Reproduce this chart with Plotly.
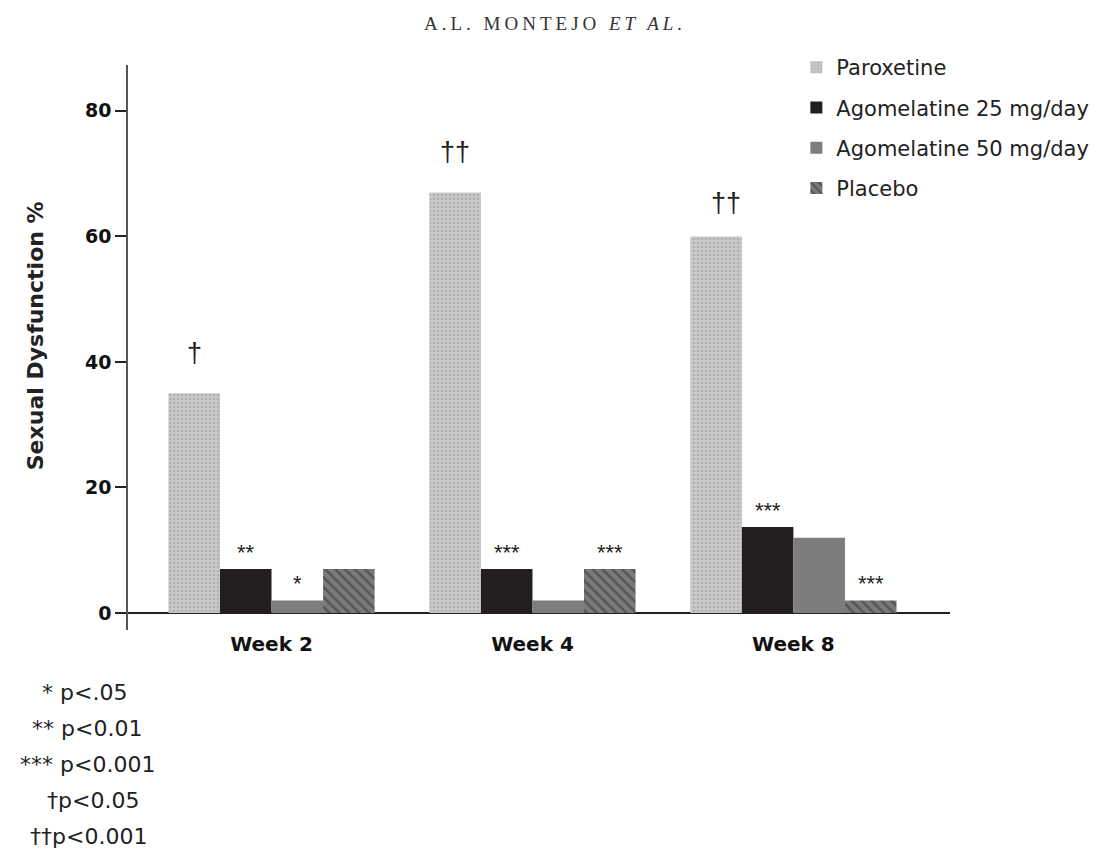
import plotly.graph_objects as go

categories = ["Week 2", "Week 4", "Week 8"]
series_names = ["Paroxetine", "Agomelatine 25 mg/day", "Agomelatine 50 mg/day", "Placebo"]
paroxetine = [35, 67, 60]
agomelatine25 = [7, 7, 13.7]
agomelatine50 = [2, 2, 12]
placebo = [7, 7, 2]
yticks = [0, 20, 40, 60, 80]
# significance marks: (category index, series index, label)
marks = [
    (0, 0, "†"), (0, 1, "**"), (0, 2, "*"),
    (1, 0, "††"), (1, 1, "***"), (1, 3, "***"),
    (2, 0, "††"), (2, 1, "***"), (2, 3, "***"),
]
footnotes = ["* p<.05", "** p<0.01", "*** p<0.001", "†p<0.05", "††p<0.001"]

values = [paroxetine, agomelatine25, agomelatine50, placebo]

# page coordinates (browser adds an 8px body margin at top/left)
OFF = 8
W, H = 1106 - OFF, 861 - 2 * OFF
P_LEFT, P_RIGHT, P_TOP, P_BOTTOM = 128, 952, 65, 630
ML, MT = P_LEFT - OFF, P_TOP - OFF
MR, MB = W - (P_RIGHT - OFF), H - (P_BOTTOM - OFF)
PW, PH = P_RIGHT - P_LEFT, P_BOTTOM - P_TOP

def px_x(x):
    return (x - P_LEFT) / PW

def px_y(y):
    return (P_BOTTOM - y) / PH

SANS = "DejaVu Sans, Verdana, sans-serif"
LIB = "Liberation Sans, Arial, sans-serif"

styles = [
    dict(color="#c6c6c6", pattern=dict(shape=".", fgcolor="#9a9a9a", bgcolor="#c9c9c9",
                                      size=4, solidity=0.35, fillmode="overlay")),
    dict(color="#231f20"),
    dict(color="#7d7d7d"),
    dict(color="#6e6e6e", pattern=dict(shape="\\", fgcolor="#2e2e2e", bgcolor="#7a7a7a",
                                      size=7, solidity=0.35, fillmode="overlay")),
]

xs = list(range(len(categories)))
fig = go.Figure()
for i, (name, vals) in enumerate(zip(series_names, values)):
    fig.add_trace(go.Bar(
        x=xs, y=vals, name=name, legendgroup=name,
        marker=dict(line=dict(width=0), **styles[i]),
    ))

bargap = 0.21
nser = len(series_names)
bw = (1 - bargap) / nser
for ci, si, lab in marks:
    xc = ci + (si - (nser - 1) / 2) * bw
    v = values[si][ci]
    is_dagger = "†" in lab
    fig.add_annotation(
        x=xc, y=v, xref="x", yref="y", text=lab, showarrow=False,
        yanchor="middle", yshift=((33 if ci == 2 else 40) if is_dagger else 17),
        xshift=(10 if (is_dagger and ci == 2) else 0),
        font=dict(family=LIB, size=(27 if is_dagger else 22), color="#222"),
    )

foot_left = [40, 30, 18, 45, 28]
for k, t in enumerate(footnotes):
    fig.add_annotation(
        x=px_x(foot_left[k]), y=px_y(692 + 36 * k), xref="paper", yref="paper",
        text=t, showarrow=False, xanchor="left", yanchor="middle",
        font=dict(family=SANS, size=22, color="#222"),
    )

fig.add_annotation(
    x=px_x(556), y=px_y(24), xref="paper", yref="paper",
    text="<span style='letter-spacing:4px'>A.L. MONTEJO <i>ET AL.</i></span>",
    showarrow=False, xanchor="center", yanchor="middle",
    font=dict(family="Liberation Serif, Times New Roman, serif", size=19, color="#333"),
)

fig.add_annotation(
    x=px_x(35), y=px_y(336), xref="paper", yref="paper",
    text="<b>Sexual Dysfunction %</b>", textangle=-90, showarrow=False,
    xanchor="center", yanchor="middle",
    font=dict(family=SANS, size=22, color="#222"),
)

fig.update_layout(
    width=W, height=H,
    margin=dict(l=ML, r=MR, t=MT, b=MB),
    plot_bgcolor="white", paper_bgcolor="white",
    barmode="group", bargap=bargap, bargroupgap=0,
    font=dict(family=SANS, color="#222"),
    legend=dict(
        x=px_x(798), y=px_y(47), xanchor="left", yanchor="top",
        font=dict(family=SANS, size=21, color="#222"),
        tracegroupgap=10, traceorder="grouped",
        bgcolor="rgba(0,0,0,0)", borderwidth=0,
    ),
    showlegend=True,
)
fig.update_xaxes(
    range=[-0.55, 2.6], tickvals=xs, ticktext=categories,
    showline=False, ticks="", showgrid=False, zeroline=False,
    tickfont=dict(family=SANS, size=20, color="#111", weight="bold"),
    ticklabelstandoff=0,
)
fig.update_yaxes(
    range=[-2.7, 87.3], tickvals=yticks, ticks="outside", ticklen=11,
    tickwidth=1.5, tickcolor="#222",
    showline=True, linecolor="#555", linewidth=1.5,
    showgrid=False, zeroline=True, zerolinecolor="#222", zerolinewidth=1.5,
    tickfont=dict(family=SANS, size=19, color="#111", weight="bold"),
)

fig.write_html("out.html")
